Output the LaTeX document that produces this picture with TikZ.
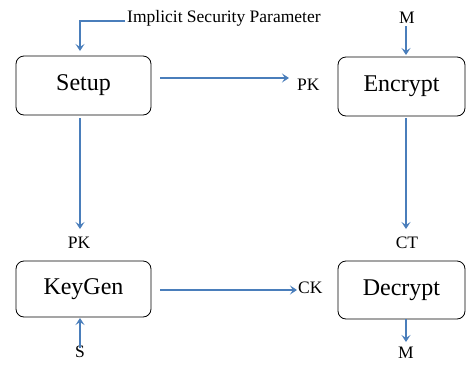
\documentclass[tikz,border=0pt]{standalone}
\usepackage{fontspec}
\setmainfont{Liberation Serif}
\usetikzlibrary{arrows.meta}
\definecolor{arrowblue}{HTML}{4A7EBB}
\tikzset{
  blockbox/.style={draw=black, line width=0.8pt, rounded corners=8pt, inner sep=0pt, font=\fontsize{24}{28}\selectfont},
  lbl/.style={inner sep=0pt, font=\fontsize{17.5}{20}\selectfont},
  flow/.style={draw=arrowblue, line width=1.7pt, -{Stealth[length=7pt,width=9pt,inset=3pt]}},
}
\begin{document}
\begin{tikzpicture}[x=1pt,y=-1pt]
\useasboundingbox (0,0) rectangle (467,365);
% boxes
\node[blockbox, minimum width=135pt, minimum height=59pt] (setup) at (83.5,85.5) {Setup};
\node[blockbox, minimum width=135pt, minimum height=56pt] (keygen) at (83.5,289) {KeyGen};
\node[blockbox, minimum width=127pt, minimum height=59pt] (encrypt) at (401.5,86.5) {Encrypt};
\node[blockbox, minimum width=127pt, minimum height=58pt] (decrypt) at (401.5,290) {Decrypt};
% labels
\node[lbl, anchor=base west] (isp) at (127,22) {Implicit Security Parameter};
\node[lbl, anchor=base] (mtop) at (407,23) {M};
\node[lbl, anchor=base west] (pk1) at (297,90) {PK};
\node[lbl, anchor=base] (pk2) at (79,248) {PK};
\node[lbl, anchor=base] (ct) at (407,248) {CT};
\node[lbl, anchor=base west] (ck) at (298,293) {CK};
\node[lbl, anchor=base] (s) at (80,357) {S};
\node[lbl, anchor=base] (mbot) at (406,358) {M};
% arrow end points
\coordinate (ispS) at (125,21);
\coordinate (ispE) at (80,51);
\coordinate (mE) at (406,55);
\coordinate (pk1E) at (289,78);
\coordinate (pk2E) at (80,229);
\coordinate (ctE) at (406,229);
\coordinate (ckE) at (297,290);
\coordinate (sE) at (80,318);
\coordinate (mbE) at (406,342);
% arrows
\draw[flow] (ispS) -| (ispE);
\draw[flow] ([yshift=-3pt]mtop.south -| mE) -- (mE);
\draw[flow] ([xshift=9pt]setup.east |- pk1E) -- (pk1E);
\draw[flow] ([yshift=-3pt]setup.south -| pk2E) -- (pk2E);
\draw[flow] ([yshift=-2pt]encrypt.south -| ctE) -- (ctE);
\draw[flow] ([xshift=9pt]keygen.east |- ckE) -- (ckE);
\draw[flow] ([yshift=-3pt]s.north -| sE) -- (sE);
\draw[flow] (decrypt.south -| mbE) -- (mbE);
\end{tikzpicture}
\end{document}
